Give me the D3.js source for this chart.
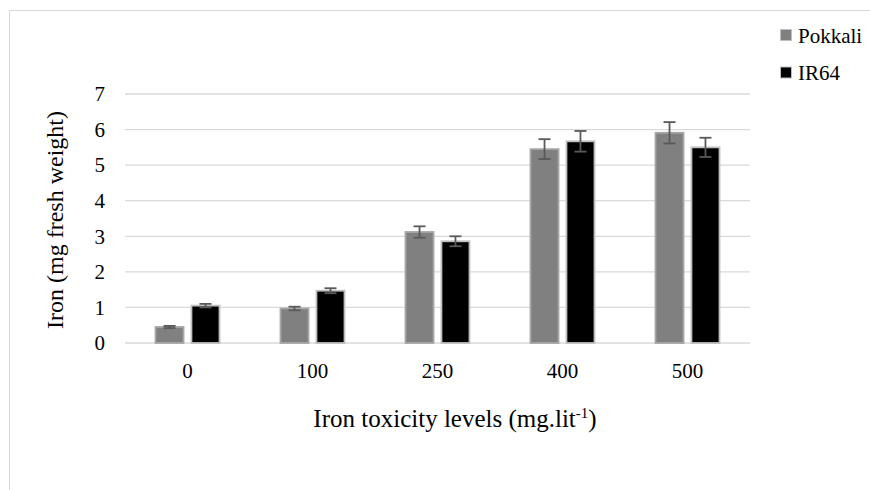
<!DOCTYPE html>
<html>
<head>
<meta charset="utf-8">
<script src="https://cdn.jsdelivr.net/npm/d3@7"></script>
<style>
  body { margin: 0; background: #fff; }
</style>
</head>
<body>
<svg id="chart" width="870" height="490"></svg>
<script>
// data
const levels = ["0", "100", "250", "400", "500"];
const seriesNames = ["Pokkali", "IR64"];
const pokkali = [0.45, 0.97, 3.12, 5.45, 5.91];
const ir64 = [1.05, 1.47, 2.86, 5.67, 5.50];
const pokkaliErr = [0.03, 0.05, 0.16, 0.28, 0.30];
const ir64Err = [0.05, 0.07, 0.14, 0.29, 0.27];
const yTicks = [0, 1, 2, 3, 4, 5, 6, 7];

const colors = { Pokkali: "#808080", IR64: "#000000" };
const serif = "'Liberation Serif', 'Times New Roman', serif";

const svg = d3.select("#chart");
const margin = { top: 94, left: 125, right: 120, bottom: 147 };
const width = 870 - margin.left - margin.right;
const height = 490 - margin.top - margin.bottom;

// chart frame
svg.append("rect")
  .attr("x", 9.5).attr("y", 10.5)
  .attr("width", 880).attr("height", 500)
  .attr("fill", "none").attr("stroke", "#d9d9d9").attr("stroke-width", 1);

const g = svg.append("g").attr("transform", `translate(${margin.left},${margin.top})`);

const x0 = d3.scaleBand().domain(levels).range([0, width]);
const x1 = d3.scaleBand().domain(seriesNames)
  .range([x0.bandwidth() / 2 - 32, x0.bandwidth() / 2 + 32]).paddingInner(0.22);
const y = d3.scaleLinear().domain([0, 7]).range([height, 0]);

// gridlines
g.append("g")
  .selectAll("line")
  .data(yTicks)
  .join("line")
  .attr("x1", 0).attr("x2", width)
  .attr("y1", (d) => y(d)).attr("y2", (d) => y(d))
  .attr("stroke", "#d9d9d9").attr("stroke-width", 1.3);

// y axis labels
const yAxis = d3.axisLeft(y).tickValues(yTicks).tickFormat(d3.format("d")).tickSize(0).tickPadding(20);
g.append("g").call(yAxis)
  .attr("font-family", null)
  .call((s) => s.select(".domain").remove())
  .selectAll("text").style("font-size", "21px").style("font-family", serif).attr("fill", "#000");

// x axis labels
const xAxis = d3.axisBottom(x0).tickSize(0).tickPadding(20);
g.append("g").attr("transform", `translate(0,${height})`).call(xAxis)
  .attr("font-family", null)
  .call((s) => s.select(".domain").remove())
  .selectAll("text").style("font-size", "21px").style("font-family", serif).attr("fill", "#000");

const rows = levels.map((lv, i) => ({
  level: lv,
  vals: [
    { name: "Pokkali", v: pokkali[i], e: pokkaliErr[i] },
    { name: "IR64", v: ir64[i], e: ir64Err[i] },
  ],
}));

const groups = g.append("g").selectAll("g")
  .data(rows)
  .join("g")
  .attr("transform", (d) => `translate(${x0(d.level)},0)`);

groups.selectAll("rect")
  .data((d) => d.vals)
  .join("rect")
  .attr("x", (d) => x1(d.name))
  .attr("y", (d) => y(d.v))
  .attr("width", x1.bandwidth())
  .attr("height", (d) => y(0) - y(d.v))
  .attr("fill", (d) => colors[d.name])
  .attr("stroke", (d) => (d.name === "Pokkali" ? "#a6a6a6" : "#bfbfbf"))
  .attr("stroke-width", 1.8);

// error bars
const err = groups.selectAll("g.err")
  .data((d) => d.vals)
  .join("g")
  .attr("class", "err")
  .attr("stroke", "#595959")
  .attr("stroke-width", 1.8);
err.append("line")
  .attr("x1", (d) => x1(d.name) + x1.bandwidth() / 2)
  .attr("x2", (d) => x1(d.name) + x1.bandwidth() / 2)
  .attr("y1", (d) => y(d.v + d.e))
  .attr("y2", (d) => y(d.v - d.e));
[1, -1].forEach((sgn) => {
  err.append("line")
    .attr("x1", (d) => x1(d.name) + x1.bandwidth() / 2 - 6)
    .attr("x2", (d) => x1(d.name) + x1.bandwidth() / 2 + 6)
    .attr("y1", (d) => y(d.v + sgn * d.e))
    .attr("y2", (d) => y(d.v + sgn * d.e));
});

// axis titles
svg.append("text")
  .attr("transform", "translate(63,220) rotate(-90)")
  .attr("text-anchor", "middle")
  .style("font-family", serif)
  .style("font-size", "24px")
  .text("Iron (mg fresh weight)");

const xt = svg.append("text")
  .attr("x", 455)
  .attr("y", 427)
  .attr("text-anchor", "middle")
  .style("font-family", serif)
  .style("font-size", "25px");
xt.append("tspan").text("Iron toxicity levels (mg.lit");
xt.append("tspan").attr("dy", -9).style("font-size", "15px").text("-1");
xt.append("tspan").attr("dy", 9).text(")");

// legend
const legend = svg.append("g").attr("transform", "translate(780.5,29.5)");
const li = legend.selectAll("g")
  .data(seriesNames)
  .join("g")
  .attr("transform", (d, i) => `translate(0,${i * 37.5})`);
li.append("rect")
  .attr("width", 11).attr("height", 11)
  .attr("fill", (d) => colors[d])
  .attr("stroke", "#bfbfbf").attr("stroke-width", 1);
li.append("text")
  .attr("x", 17.5).attr("y", 13)
  .style("font-family", serif)
  .style("font-size", "21px")
  .text((d) => d);
</script>
</body>
</html>
